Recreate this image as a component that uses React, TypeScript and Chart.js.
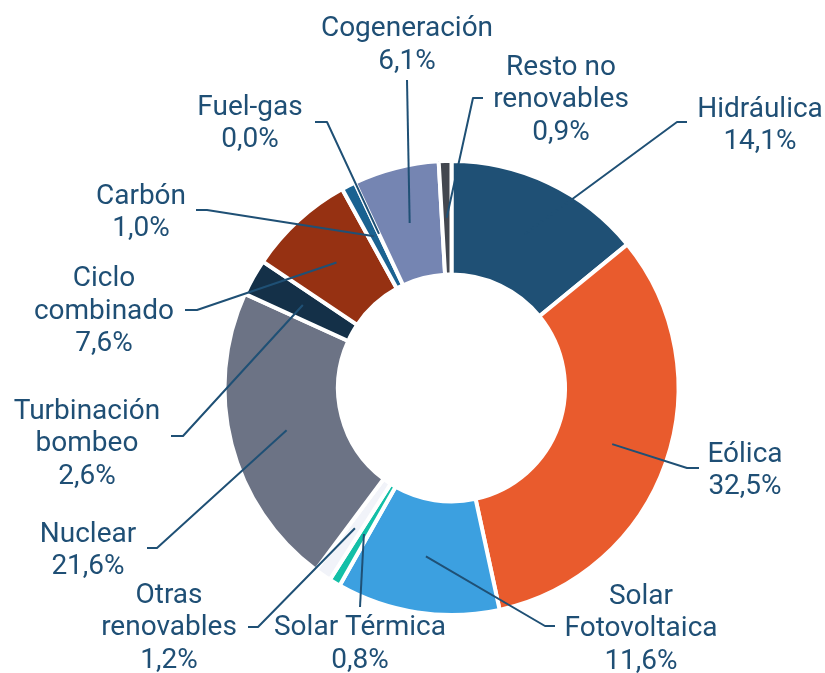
import React, { useEffect, useRef } from "react";
import { Chart, registerables } from "chart.js";

Chart.register(...registerables);

// ---- data ----
const categories = [
  "Hidráulica",
  "Eólica",
  "Solar Fotovoltaica",
  "Solar Térmica",
  "Otras renovables",
  "Nuclear",
  "Turbinación bombeo",
  "Ciclo combinado",
  "Carbón",
  "Fuel-gas",
  "Cogeneración",
  "Resto no renovables",
];
const shares = [14.1, 32.5, 11.6, 0.8, 1.2, 21.6, 2.6, 7.6, 1.0, 0.0, 6.1, 0.9];
const labelTexts = [
  ["Hidráulica"],
  ["Eólica"],
  ["Solar", "Fotovoltaica"],
  ["Solar Térmica"],
  ["Otras", "renovables"],
  ["Nuclear"],
  ["Turbinación", "bombeo"],
  ["Ciclo", "combinado"],
  ["Carbón"],
  ["Fuel-gas"],
  ["Cogeneración"],
  ["Resto no", "renovables"],
];

// ---- styles ----
const sliceColors = [
  "#1F5075",
  "#E95B2D",
  "#3CA0E0",
  "#13BFA7",
  "#F1F3F9",
  "#6C7385",
  "#143048",
  "#963112",
  "#1A6291",
  "#1A6291",
  "#7585B2",
  "#43474F",
];
const textColor = "#1F4F75";
const lineColor = "#1F5075";
const FONT = "28px Roboto";
const LINE_H = 32.5;

// label layout: text centre x, first baseline y, leader elbow and end
const labelLayout = [
  { x: 760, y: 116.5, elbow: [677, 122], end: [687, 122] },
  { x: 745, y: 461.5, elbow: [687, 468], end: [699, 468] },
  { x: 641, y: 603.5, elbow: [545, 626], end: [555, 626] },
  { x: 360, y: 635, elbow: [360, 607], end: [360, 607] },
  { x: 169, y: 602.5, elbow: [258, 627], end: [248, 627] },
  { x: 88, y: 541.5, elbow: [157, 548], end: [147, 548] },
  { x: 87, y: 418.5, elbow: [183, 436], end: [171, 436] },
  { x: 104, y: 286, elbow: [197, 310], end: [185, 310] },
  { x: 141, y: 203.5, elbow: [207, 210], end: [196, 210] },
  { x: 250, y: 114.5, elbow: [327, 122], end: [315, 122] },
  { x: 407, y: 36, elbow: [407, 80], end: [407, 80] },
  { x: 561, y: 74.5, elbow: [473, 98], end: [483, 98] },
];

const fmt = (v: number) => v.toFixed(1).replace(".", ",") + "%";

const leaderLabels = {
  id: "leaderLabels",
  afterDatasetsDraw(chart: any) {
    const ctx = chart.ctx;
    const meta = chart.getDatasetMeta(0);
    ctx.save();
    meta.data.forEach((arc: any, i: number) => {
      const lay = labelLayout[i];
      const p = arc.getCenterPoint();
      ctx.beginPath();
      ctx.strokeStyle = lineColor;
      ctx.lineWidth = 2;
      ctx.lineJoin = "round";
      ctx.moveTo(p.x, p.y);
      ctx.lineTo(lay.elbow[0], lay.elbow[1]);
      ctx.lineTo(lay.end[0], lay.end[1]);
      ctx.stroke();
    });
    ctx.font = FONT;
    ctx.fillStyle = textColor;
    ctx.textAlign = "center";
    ctx.textBaseline = "alphabetic";
    meta.data.forEach((_arc: any, i: number) => {
      const lay = labelLayout[i];
      const lines = [...labelTexts[i], fmt(shares[i])];
      lines.forEach((t, k) => {
        ctx.fillText(t, lay.x, lay.y + k * LINE_H);
      });
    });
    ctx.restore();
  },
};

export default function App() {
  const ref = useRef<HTMLCanvasElement | null>(null);
  useEffect(() => {
    if (!ref.current) return;
    const chart = new Chart(ref.current, {
      type: "doughnut",
      data: {
        labels: categories,
        datasets: [
          {
            data: shares,
            backgroundColor: sliceColors,
            borderColor: "#ffffff",
            borderWidth: 4,
            hoverBorderWidth: 4,
            hoverOffset: 0,
          },
        ],
      },
      options: {
        responsive: false,
        animation: false,
        cutout: "50%",
        layout: { padding: { left: 222.5, right: 144.5, top: 159, bottom: 56 } },
        plugins: {
          legend: { display: false },
          tooltip: { enabled: false },
        },
        events: [],
      },
      plugins: [leaderLabels],
    });
    return () => chart.destroy();
  }, []);
  return (
    <div style={{ position: "fixed", left: 0, top: 0, width: 825, height: 673, background: "#fff" }}>
      <canvas ref={ref} width={825} height={673} style={{ display: "block" }} />
    </div>
  );
}
